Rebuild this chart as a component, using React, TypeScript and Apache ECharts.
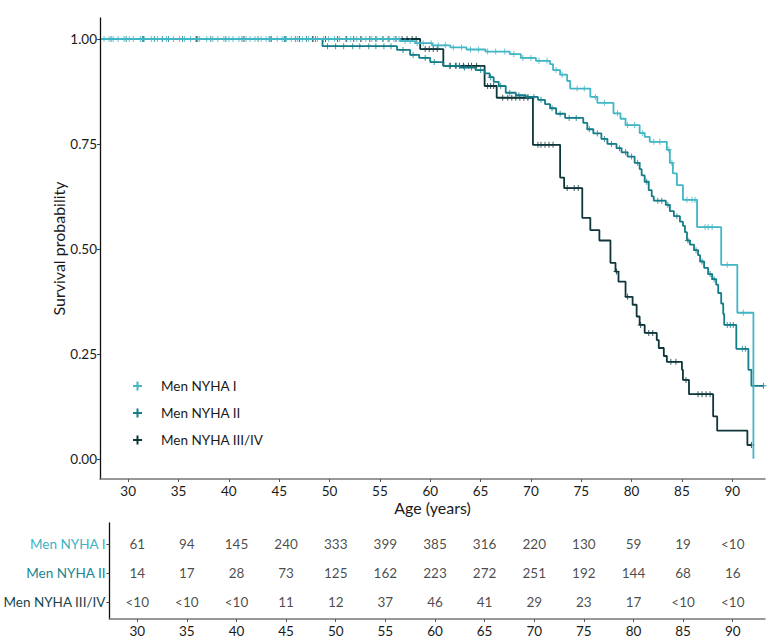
import React, { useEffect, useRef } from "react";
import * as echarts from "echarts";

const groupNames = ["Men NYHA I", "Men NYHA II", "Men NYHA III/IV"];
const lineColors = ["#41b6c5", "#137d89", "#0e363b"];
const rowLabelColors = ["#3cb3c3", "#1b8591", "#15474d"];

// Kaplan-Meier steps: age at which the survival takes the given value
const nyha1Ages = [27.3, 57.0, 58.5, 60.2, 62.0, 63.6, 65.5, 67.9, 69.0, 70.5, 71.9, 72.2, 72.9, 73.6, 73.9, 75.9, 76.6, 78.2, 78.9, 79.4, 80.8, 81.3, 81.8, 83.5, 83.8, 84.1, 84.5, 85.1, 86.5, 88.9, 90.5, 92.1];
const nyha1Surv = [1.0, 0.995, 0.99, 0.985, 0.98, 0.975, 0.97, 0.964, 0.955, 0.948, 0.94, 0.926, 0.915, 0.9, 0.882, 0.862, 0.848, 0.823, 0.81, 0.795, 0.776, 0.767, 0.755, 0.736, 0.705, 0.68, 0.652, 0.617, 0.552, 0.462, 0.348, 0.0];
const nyha1Censor = [27.6, 28.1, 28.5, 29.0, 29.6, 30.1, 30.5, 31.2, 31.6, 32.3, 32.9, 33.4, 33.8, 34.5, 35.1, 35.6, 36.2, 36.7, 37.1, 37.8, 38.4, 38.9, 39.5, 40.0, 40.4, 41.0, 41.7, 42.1, 42.6, 43.2, 43.7, 44.1, 44.8, 45.3, 45.7, 46.2, 46.8, 47.3, 47.9, 48.4, 48.8, 49.4, 49.9, 50.5, 51.0, 51.6, 52.1, 52.7, 53.2, 53.6, 54.2, 54.7, 55.3, 55.8, 56.4, 56.9, 57.5, 58.0, 58.7, 59.3, 60.1, 60.8, 61.5, 62.3, 63.1, 64.0, 64.8, 65.7, 66.5, 67.4, 68.3, 69.2, 70.0, 70.8, 71.6, 72.5, 73.1, 74.6, 75.3, 76.4, 77.3, 78.6, 79.6, 80.3, 81.1, 82.2, 82.8, 83.7, 84.0, 85.5, 86.0, 86.3, 87.3, 87.6, 88.0, 89.5, 91.1];

const nyha2Ages = [27.3, 49.3, 56.7, 58.0, 58.9, 60.0, 61.3, 63.0, 64.5, 65.4, 65.9, 66.3, 66.8, 67.5, 68.5, 69.5, 70.7, 71.4, 71.9, 72.5, 73.4, 75.2, 75.6, 76.2, 77.0, 77.6, 78.5, 79.0, 79.6, 80.3, 80.8, 81.0, 81.3, 81.7, 82.0, 82.2, 83.4, 83.8, 84.2, 84.8, 85.1, 85.3, 85.5, 85.8, 86.2, 86.6, 86.8, 87.2, 87.6, 88.0, 88.4, 88.6, 88.9, 89.1, 89.2, 90.4, 91.6, 91.9];
const nyha2Surv = [1.0, 0.983, 0.974, 0.962, 0.955, 0.945, 0.936, 0.932, 0.926, 0.918, 0.909, 0.898, 0.888, 0.872, 0.866, 0.862, 0.855, 0.845, 0.835, 0.822, 0.812, 0.8, 0.785, 0.775, 0.762, 0.75, 0.74, 0.73, 0.72, 0.705, 0.69, 0.675, 0.66, 0.64, 0.625, 0.615, 0.605, 0.59, 0.578, 0.565, 0.555, 0.54, 0.52, 0.51, 0.497, 0.485, 0.47, 0.455, 0.44, 0.428, 0.415, 0.395, 0.37, 0.345, 0.319, 0.262, 0.212, 0.174];
const nyha2Censor = [28.3, 29.8, 31.4, 32.6, 34.0, 35.4, 36.9, 38.2, 39.7, 41.3, 42.9, 44.0, 45.5, 46.6, 47.7, 48.6, 49.8, 50.6, 51.4, 52.3, 53.0, 53.9, 54.6, 55.4, 56.1, 57.3, 58.3, 59.5, 60.4, 61.9, 62.6, 63.4, 64.1, 65.0, 66.0, 67.0, 67.9, 68.8, 69.7, 70.3, 71.0, 72.1, 72.9, 73.8, 74.5, 75.8, 76.6, 77.3, 78.0, 78.8, 79.4, 80.0, 80.6, 81.5, 82.6, 83.0, 83.6, 84.5, 85.6, 86.4, 87.0, 87.8, 88.2, 89.5, 89.8, 90.1, 91.0, 91.3, 93.1];

const nyha3Ages = [27.3, 59.0, 61.3, 65.4, 66.6, 70.2, 72.9, 73.3, 75.1, 75.9, 76.8, 77.9, 78.4, 78.7, 79.4, 80.1, 80.5, 80.8, 81.3, 82.5, 82.7, 83.2, 83.5, 85.0, 85.1, 85.7, 88.1, 88.5, 91.5];
const nyha3Surv = [1.0, 0.976, 0.936, 0.888, 0.86, 0.748, 0.67, 0.645, 0.574, 0.545, 0.52, 0.467, 0.446, 0.422, 0.386, 0.367, 0.339, 0.319, 0.3, 0.283, 0.264, 0.245, 0.231, 0.212, 0.188, 0.154, 0.101, 0.067, 0.033];
const nyha3Censor = [31.5, 33.4, 36.8, 41.5, 44.2, 45.6, 47.0, 48.3, 49.6, 50.8, 51.7, 52.4, 53.1, 54.0, 54.6, 55.3, 55.9, 56.6, 57.2, 57.7, 58.2, 58.6, 59.5, 59.9, 60.3, 60.7, 62.0, 62.5, 62.9, 63.3, 63.8, 64.1, 64.6, 65.7, 66.0, 66.3, 67.2, 67.7, 68.1, 68.5, 68.9, 69.3, 69.7, 70.7, 71.0, 71.4, 71.8, 72.2, 73.6, 74.3, 74.7, 78.5, 79.6, 80.9, 81.7, 82.1, 83.9, 84.4, 85.4, 86.6, 87.0, 87.4, 87.8, 91.9];

// Number at risk table
const riskAges = [30, 35, 40, 45, 50, 55, 60, 65, 70, 75, 80, 85, 90];
const riskNyha1 = ["61", "94", "145", "240", "333", "399", "385", "316", "220", "130", "59", "19", "<10"];
const riskNyha2 = ["14", "17", "28", "73", "125", "162", "223", "272", "251", "192", "144", "68", "16"];
const riskNyha3 = ["<10", "<10", "<10", "11", "12", "37", "46", "41", "29", "23", "17", "<10", "<10"];

const yTickValues = [0, 0.25, 0.5, 0.75, 1.0];

const FONT = "Lato";
const PLUS_CENSOR = "path://M2.5,0h1v2.5h2.5v1h-2.5v2.5h-1v-2.5h-2.5v-1h2.5z";
const PLUS_LEGEND = "path://M3.5,0h2v3.5h3.5v2h-3.5v3.5h-2v-3.5h-3.5v-2h3.5z";

function survAt(ages: number[], surv: number[], t: number): number {
  let s = surv[0];
  for (let i = 0; i < ages.length; i++) {
    if (ages[i] <= t) s = surv[i];
  }
  return s;
}

export default function App() {
  const ref = useRef<HTMLDivElement>(null);
  useEffect(() => {
    if (!ref.current) return;
    const chart = echarts.init(ref.current, undefined, { renderer: "svg" });

    const groups = [
      { ages: nyha1Ages, surv: nyha1Surv, censor: nyha1Censor },
      { ages: nyha2Ages, surv: nyha2Surv, censor: nyha2Censor },
      { ages: nyha3Ages, surv: nyha3Surv, censor: nyha3Censor },
    ];
    const riskRows = [riskNyha1, riskNyha2, riskNyha3];
    const rowTop = 21;
    const rowStep = 29;
    const rowPos = riskRows.map((_, i) => rowTop + i * rowStep);

    const series: any[] = [];
    groups.forEach((g, i) => {
      const pts: number[][] = g.ages.map((a, k) => [a, g.surv[k]]);
      const lastEvent = g.ages[g.ages.length - 1];
      const lastCensor = Math.max(...g.censor);
      if (lastCensor > lastEvent) pts.push([lastCensor, g.surv[g.surv.length - 1]]);
      series.push({
        name: groupNames[i],
        type: "line",
        step: "end",
        xAxisIndex: 0,
        yAxisIndex: 0,
        data: pts,
        showSymbol: false,
        symbol: "none",
        lineStyle: { color: lineColors[i], width: 1.8 },
        itemStyle: { color: lineColors[i] },
        z: 3 - i + 2,
        silent: true,
      });
      series.push({
        name: groupNames[i],
        type: "scatter",
        xAxisIndex: 0,
        yAxisIndex: 0,
        data: g.censor.map((c) => [c, survAt(g.ages, g.surv, c)]),
        symbol: PLUS_CENSOR,
        symbolSize: 6,
        itemStyle: { color: lineColors[i] },
        z: 3 - i + 2,
        silent: true,
      });
    });

    riskRows.forEach((row, i) => {
      series.push({
        type: "scatter",
        xAxisIndex: 1,
        yAxisIndex: 1,
        data: riskAges.map((a, j) => [a, rowPos[i], row[j]]),
        symbolSize: 1,
        itemStyle: { color: "transparent" },
        label: {
          show: true,
          position: "inside",
          formatter: (p: any) => p.value[2],
          color: "#1a1a1a",
          fontSize: 13.5,
          fontFamily: FONT,
        },
        silent: true,
      });
    });

    const rich: any = {};
    groupNames.forEach((_, i) => {
      rich["g" + i] = { color: rowLabelColors[i], fontSize: 13.5, fontFamily: FONT };
    });

    const xAxisCommon = {
      type: "value",
      min: 27.2,
      max: 93.25,
      splitLine: { show: false },
      axisLine: { show: true, onZero: false, lineStyle: { color: "#777", width: 1.5 } },
      axisTick: { show: true, length: 3, customValues: riskAges, lineStyle: { color: "#555" } },
      axisLabel: { customValues: riskAges, margin: 5, color: "#1a1a1a", fontSize: 13.5, fontFamily: FONT },
    };

    chart.setOption({
      animation: false,
      textStyle: { fontFamily: FONT },
      grid: [
        { left: 100, right: 5, top: 18, height: 461 },
        { left: 100, right: 5, top: 523, height: 96 },
      ],
      legend: {
        data: groupNames.map((n) => ({ name: n, icon: PLUS_LEGEND })),
        orient: "vertical",
        left: 128,
        top: 373,
        itemWidth: 9,
        itemHeight: 9,
        itemGap: 11,
        selectedMode: false,
        textStyle: { fontSize: 13.5, color: "#1a1a1a", fontFamily: FONT, padding: [0, 0, 0, 14], lineHeight: 16 },
      },
      xAxis: [
        {
          ...xAxisCommon,
          gridIndex: 0,
          name: "Age (years)",
          nameLocation: "middle",
          nameGap: 20,
          nameMoveOverlap: false,
          nameTextStyle: { fontSize: 16, color: "#1a1a1a", fontFamily: FONT },
        },
        { ...xAxisCommon, gridIndex: 1 },
      ],
      yAxis: [
        {
          gridIndex: 0,
          type: "value",
          min: -0.048,
          max: 1.05,
          splitLine: { show: false },
          axisLine: { show: true, onZero: false, lineStyle: { color: "#111", width: 1.3 } },
          axisTick: { show: true, length: 3, customValues: yTickValues, lineStyle: { color: "#444" } },
          axisLabel: {
            customValues: yTickValues,
            margin: 3,
            formatter: (v: number) => v.toFixed(2),
            color: "#1a1a1a",
            fontSize: 13.5,
            fontFamily: FONT,
          },
          name: "Survival probability",
          nameLocation: "middle",
          nameGap: 34,
          nameMoveOverlap: false,
          nameRotate: 90,
          nameTextStyle: { fontSize: 16, color: "#1a1a1a", fontFamily: FONT },
        },
        {
          gridIndex: 1,
          type: "value",
          min: 0,
          max: 96,
          inverse: true,
          splitLine: { show: false },
          axisLine: { show: true, onZero: false, lineStyle: { color: "#111", width: 1.3 } },
          axisTick: { show: true, length: 3, customValues: rowPos, lineStyle: { color: "#444" } },
          axisLabel: {
            customValues: rowPos,
            margin: 4,
            formatter: (v: number) => {
              const i = rowPos.indexOf(v);
              return i >= 0 ? `{g${i}|${groupNames[i]}}` : "";
            },
            rich,
          },
        },
      ],
      series,
    });

    return () => chart.dispose();
  }, []);

  return (
    <div
      ref={ref}
      style={{ position: "fixed", left: 0, top: 0, width: 770, height: 638, background: "#fff" }}
    />
  );
}
